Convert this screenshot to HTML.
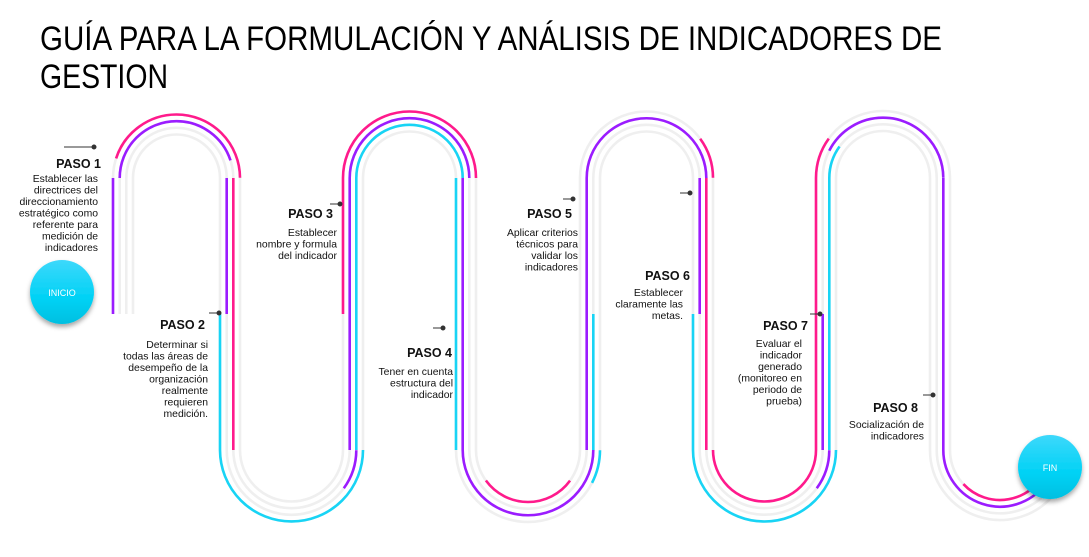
<!DOCTYPE html>
<html><head><meta charset="utf-8">
<style>
html,body{margin:0;padding:0;background:#fff;width:1089px;height:557px;overflow:hidden}
svg{display:block}
text{font-family:"Liberation Sans",sans-serif;fill:#111}
.h{font-weight:bold;font-size:12.5px}
.t{font-size:10.4px}
</style></head><body>
<svg id="s" width="1089" height="557" viewBox="0 0 1089 557" xmlns="http://www.w3.org/2000/svg">
<defs>
<linearGradient id="cg" x1="0" y1="0" x2="0" y2="1"><stop offset="0" stop-color="#3dd8fb"/><stop offset="0.6" stop-color="#00d2f5"/><stop offset="1" stop-color="#00bfe0"/></linearGradient>
<filter id="sh" x="-30%" y="-30%" width="160%" height="170%"><feDropShadow dx="0" dy="3" stdDeviation="2.5" flood-color="#000" flood-opacity="0.35"/></filter>
</defs>
<text x="40" y="50" font-size="34" textLength="902" lengthAdjust="spacingAndGlyphs" style="fill:#000">GUÍA PARA LA FORMULACIÓN Y ANÁLISIS DE INDICADORES DE</text>
<text x="40" y="88" font-size="34" textLength="128" lengthAdjust="spacingAndGlyphs" style="fill:#000">GESTION</text>
<g id="lanes" fill="none" stroke-width="2.6"></g>
<g stroke="#333" stroke-width="1" fill="#333">
<line x1="64" y1="147" x2="94" y2="147"/><circle cx="94" cy="147" r="2"/>
<line x1="209" y1="313" x2="219" y2="313"/><circle cx="219" cy="313" r="2"/>
<line x1="330" y1="204" x2="340" y2="204"/><circle cx="340" cy="204" r="2"/>
<line x1="433" y1="328" x2="443" y2="328"/><circle cx="443" cy="328" r="2"/>
<line x1="563" y1="199" x2="573" y2="199"/><circle cx="573" cy="199" r="2"/>
<line x1="680" y1="193" x2="690" y2="193"/><circle cx="690" cy="193" r="2"/>
<line x1="810" y1="314" x2="820" y2="314"/><circle cx="820" cy="314" r="2"/>
<line x1="923" y1="395" x2="933" y2="395"/><circle cx="933" cy="395" r="2"/>
</g>
<g text-anchor="end">
<text class="h" x="101" y="168">PASO 1</text>
<text class="t" x="98" y="182">Establecer las</text><text class="t" x="98" y="193.5">directrices del</text><text class="t" x="98" y="205">direccionamiento</text><text class="t" x="98" y="216.5">estratégico como</text><text class="t" x="98" y="228">referente para</text><text class="t" x="98" y="239.5">medición de</text><text class="t" x="98" y="251">indicadores</text>
<text class="h" x="205" y="329">PASO 2</text>
<text class="t" x="208" y="348">Determinar si</text><text class="t" x="208" y="359.5">todas las áreas de</text><text class="t" x="208" y="371">desempeño de la</text><text class="t" x="208" y="382.5">organización</text><text class="t" x="208" y="394">realmente</text><text class="t" x="208" y="405.5">requieren</text><text class="t" x="208" y="417">medición.</text>
<text class="h" x="333" y="218">PASO 3</text>
<text class="t" x="337" y="236">Establecer</text><text class="t" x="337" y="247.5">nombre y formula</text><text class="t" x="337" y="259">del indicador</text>
<text class="h" x="452" y="357">PASO 4</text>
<text class="t" x="453" y="375">Tener en cuenta</text><text class="t" x="453" y="386.5">estructura del</text><text class="t" x="453" y="398">indicador</text>
<text class="h" x="572" y="218">PASO 5</text>
<text class="t" x="578" y="236">Aplicar criterios</text><text class="t" x="578" y="247.5">técnicos para</text><text class="t" x="578" y="259">validar los</text><text class="t" x="578" y="270.5">indicadores</text>
<text class="h" x="690" y="280">PASO 6</text>
<text class="t" x="683" y="296">Establecer</text><text class="t" x="683" y="307.5">claramente las</text><text class="t" x="683" y="319">metas.</text>
<text class="h" x="808" y="330">PASO 7</text>
<text class="t" x="802" y="347">Evaluar el</text><text class="t" x="802" y="358.5">indicador</text><text class="t" x="802" y="370">generado</text><text class="t" x="802" y="381.5">(monitoreo en</text><text class="t" x="802" y="393">periodo de</text><text class="t" x="802" y="404.5">prueba)</text>
<text class="h" x="918" y="412">PASO 8</text>
<text class="t" x="924" y="428">Socialización de</text><text class="t" x="924" y="439.5">indicadores</text>
</g>
<circle cx="62" cy="292" r="32" fill="url(#cg)" filter="url(#sh)"/>
<text x="62" y="296" text-anchor="middle" font-size="9" style="fill:#fff">INICIO</text>
<circle cx="1050" cy="467" r="32" fill="url(#cg)" filter="url(#sh)"/>
<text x="1050" y="471" text-anchor="middle" font-size="9" style="fill:#fff">FIN</text>
</svg>
<script>
(function(){
var L=[123,230,353,466,590,703,826,940];
var Yt=178,Yb=450,Ym=314;
var O=[10,3.3,-3.3,-10];
var P='#ff1a8c',V='#9b1cff',C='#18d4f5',G='#efefef';
var g=document.getElementById('lanes');
var svg=document.getElementById('s');
function add(d,col,fr){var p=document.createElementNS('http://www.w3.org/2000/svg','path');p.setAttribute('d',d);p.setAttribute('stroke',col);
 if(fr){p.setAttribute('pathLength','100');var a=fr[0]*100,b=fr[1]*100;p.setAttribute('stroke-dasharray','0 '+a+' '+(b-a)+' 200');}
 g.parentNode.insertBefore(p,g);g.parentNode.removeChild(p);g.appendChild(p);}
function legX(k,o){return (k%2==0)?L[k]-o:L[k]+o;}
function leg(k,half,o){var x=legX(k,o);return half=='top'?'M'+x+' '+Ym+' V'+Yt:'M'+x+' '+Yb+' V'+Ym;}
function up(k,o){var x1=L[k]-o,x2=L[k+1]+o,r=(x2-x1)/2;return 'M'+x1+' '+Yt+' A'+r+' '+r+' 0 0 1 '+x2+' '+Yt;}
function down(k,o){var x1=L[k]+o,x2=L[k+1]-o,r=(x2-x1)/2;return 'M'+x1+' '+Yb+' A'+r+' '+r+' 0 0 0 '+x2+' '+Yb;}
function lastDown(o){var x1=L[7]+o,r=60-o,cx=x1+r;return 'M'+x1+' '+Yb+' A'+r+' '+r+' 0 0 0 '+(cx+r*0.8)+' '+(Yb+r*0.6);}
// entries: color or [color,from,to]
var pieces=[
 ['leg',0,'top',[V,G,G,G]],
 ['up',0,[[P,0.1,1],[V,0,0.9],G,G]],
 ['leg',1,'top',[G,P,V,G]],['leg',1,'bot',[G,P,G,C]],
 ['down',1,[G,G,[V,0.8,1],C]],
 ['leg',2,'top',[P,V,C,G]],['leg',2,'bot',[G,V,C,G]],
 ['up',2,[P,V,C,G]],
 ['leg',3,'top',[G,G,V,C]],['leg',3,'bot',[G,G,V,C]],
 ['down',3,[[P,0.2,0.8],G,V,[C,0.85,1]]],
 ['leg',4,'top',[G,V,G,G]],['leg',4,'bot',[G,V,C,G]],
 ['up',4,[[P,0.8,1],V,G,G]],
 ['leg',5,'top',[G,P,V,G]],['leg',5,'bot',[G,P,G,C]],
 ['down',5,[P,G,[V,0.8,1],C]],
 ['leg',6,'top',[P,G,C,G]],['leg',6,'bot',[P,V,C,G]],
 ['up',6,[[P,0,0.2],[V,0.15,1],[C,0,0.2],G]],
 ['leg',7,'top',[G,V,G,G]],['leg',7,'bot',[G,V,G,G]],
 ['last',7,[[P,0.3,0.9],V,G,G]]
];
function pd(pc,o){if(pc[0]=='leg')return leg(pc[1],pc[2],o);if(pc[0]=='up')return up(pc[1],o);if(pc[0]=='down')return down(pc[1],o);return lastDown(o);}
pieces.forEach(function(pc){for(var i=0;i<4;i++)add(pd(pc,O[i]),G);});
pieces.forEach(function(pc){var cols=pc[pc.length-1];
 for(var i=0;i<4;i++){var c=cols[i];if(c===G)continue;
  if(typeof c=='string')add(pd(pc,O[i]),c);else add(pd(pc,O[i]),c[0],[c[1],c[2]]);}});
})();
</script>
</body></html>
